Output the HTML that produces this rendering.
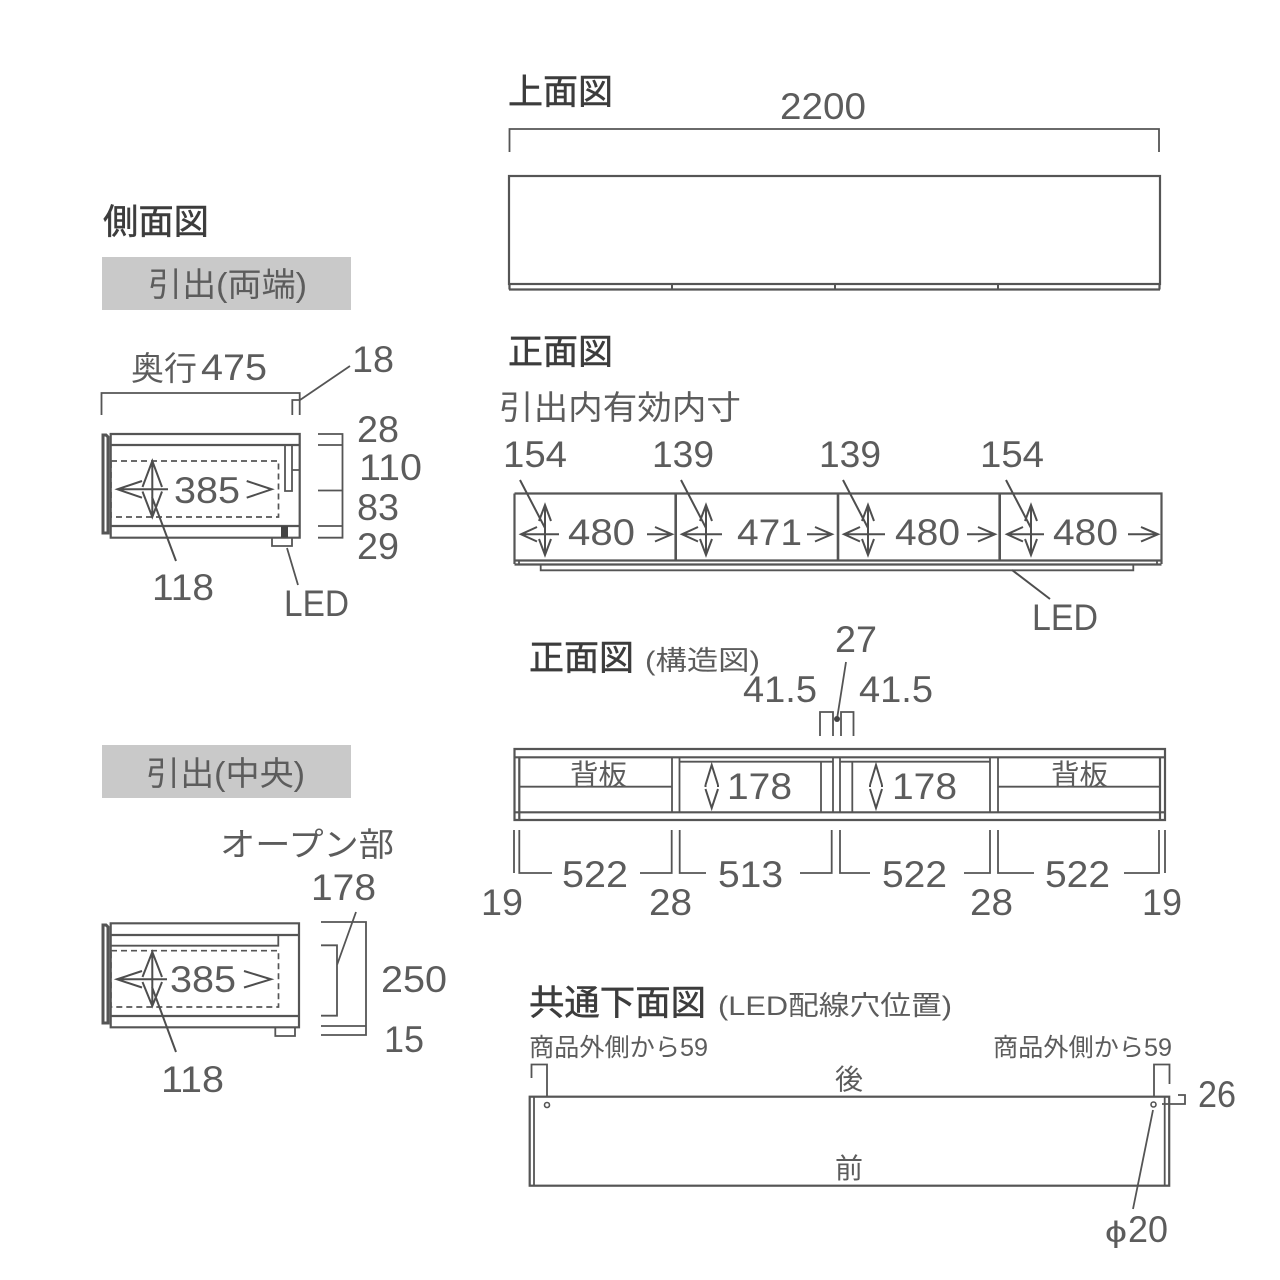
<!DOCTYPE html>
<html><head><meta charset="utf-8"><style>
html,body{margin:0;padding:0;background:#fff}
svg{display:block}
text{font-family:"Liberation Sans","Noto Sans CJK JP",sans-serif;fill:#5c5c5c;font-size:37px}
.j{font-size:33px}
.t{font-size:35px;fill:#3c3c3c;stroke:#3c3c3c;stroke-width:.5}
.m{font-size:27px}
.s{font-size:25px}
.l{fill:none;stroke:#555;stroke-width:1.8}
.b{fill:none;stroke:#555;stroke-width:2.2}
.d{fill:none;stroke:#555;stroke-width:1.7;stroke-dasharray:6 4}
.a{fill:none;stroke:#4e4e4e;stroke-width:2}
</style></head><body>
<svg width="1280" height="1280" viewBox="0 0 1280 1280" xmlns="http://www.w3.org/2000/svg">
<rect width="1280" height="1280" fill="#fff"/>

<!-- titles -->
<text class="t" x="508" y="104" textLength="105" lengthAdjust="spacingAndGlyphs">上面図</text>
<text class="t" x="508" y="364" textLength="105" lengthAdjust="spacingAndGlyphs">正面図</text>
<text class="t" x="103" y="234" textLength="106" lengthAdjust="spacingAndGlyphs">側面図</text>
<text class="t" x="529" y="670" textLength="105" lengthAdjust="spacingAndGlyphs">正面図</text>
<text class="m" x="645" y="670" textLength="115" lengthAdjust="spacingAndGlyphs">(構造図)</text>
<text class="t" x="529" y="1015" textLength="177" lengthAdjust="spacingAndGlyphs">共通下面図</text>
<text class="m" x="718" y="1015" textLength="234" lengthAdjust="spacingAndGlyphs">(LED配線穴位置)</text>

<!-- top view -->
<text x="780" y="119" textLength="86" lengthAdjust="spacingAndGlyphs">2200</text>
<path class="l" d="M509.5 152V129H1159V152"/>
<rect class="b" x="509" y="176" width="651" height="108"/>
<path class="b" d="M509 289.5H1160M509.5 284V289.5M1159.5 284V289.5"/>
<path d="M672 284V289M835 284V289M998 284V289" fill="none" stroke="#555" stroke-width="2"/>

<!-- side 1 -->
<rect x="102" y="257" width="249" height="53" fill="#c9c9c9"/>
<text class="j" x="148" y="296" textLength="159" lengthAdjust="spacingAndGlyphs">引出(両端)</text>
<text class="j" x="131" y="380">奥行</text>
<text x="201" y="380" textLength="66" lengthAdjust="spacingAndGlyphs">475</text>
<text x="352" y="372" textLength="42" lengthAdjust="spacingAndGlyphs">18</text>
<path class="l" d="M101.5 415V393H299.7V415M292.3 415V400H299.7M300 400L350 366"/>
<path class="b" d="M110.7 434H299.7V537.7H110.7ZM110.7 445H299.7M110.7 526H299.7"/>
<path d="M103 435H106L108 437V533H103Z" fill="none" stroke="#555" stroke-width="3"/>
<rect class="d" x="111" y="461" width="167.5" height="56"/>
<path class="l" d="M285 445V491H292V445M292 470H299.7"/>
<rect x="281" y="526" width="7" height="11.5" fill="#444"/>
<path class="l" d="M272 537.7V546H292V537.7M287 548L298 585"/>
<path class="a" d="M142 481L117.5 489.3L142 497.7M117.5 489.3H168M152.3 461V517M142.5 487L152.3 461L162 487M142.5 491.5L152.3 517L162 491.5M152 497L176 561M246.7 481L271.7 489.3L246.7 497.7"/>
<text x="174" y="503" textLength="66" lengthAdjust="spacingAndGlyphs">385</text>
<text x="152" y="600" textLength="62" lengthAdjust="spacingAndGlyphs">118</text>
<text x="284" y="616" textLength="65" lengthAdjust="spacingAndGlyphs">LED</text>
<path class="l" d="M318 434H342.5V537.7H318M318 445H342.5M318 490.5H342.5M318 526H342.5"/>
<text x="357" y="442" textLength="42" lengthAdjust="spacingAndGlyphs">28</text>
<text x="359" y="480" textLength="63" lengthAdjust="spacingAndGlyphs">110</text>
<text x="357" y="520" textLength="42" lengthAdjust="spacingAndGlyphs">83</text>
<text x="357" y="559" textLength="42" lengthAdjust="spacingAndGlyphs">29</text>

<!-- front view -->
<text class="j" x="499" y="419" textLength="242" lengthAdjust="spacingAndGlyphs">引出内有効内寸</text>
<text x="503" y="467" textLength="64" lengthAdjust="spacingAndGlyphs">154</text>
<text x="652" y="467" textLength="62" lengthAdjust="spacingAndGlyphs">139</text>
<text x="819" y="467" textLength="62" lengthAdjust="spacingAndGlyphs">139</text>
<text x="980" y="467" textLength="64" lengthAdjust="spacingAndGlyphs">154</text>
<path class="b" d="M514.5 493.5H1161.5V564M514.5 493.5V564M514.5 560.5H1161.5M514.5 564.5H1161.5"/>
<path d="M675.7 493.5V560M838 493.5V560M999.7 493.5V560" fill="none" stroke="#555" stroke-width="2.6"/>
<path class="l" d="M519 560V564M1157 560V564M540.7 564.5V570.3H1133.3V564.5"/>
<path class="a" d="M1012 570L1050 599"/>
<path class="a" d="M521 534.3H559M537 527L521 534.3L537 541.5M545 505V555M539 521L545 505L551 521M539 539L545 555L551 539M520 480L545 528M647 534.3H672M655 527L672 534.3L655 541.5"/>
<path class="a" d="M682 534.3H722M698 527L682 534.3L698 541.5M706 505V555M700 521L706 505L712 521M700 539L706 555L712 539M681 480L706 528M807 534.3H832M815 527L832 534.3L815 541.5"/>
<path class="a" d="M844 534.3H885M860 527L844 534.3L860 541.5M868 505V555M862 521L868 505L874 521M862 539L868 555L874 539M843 480L868 528M967 534.3H995M978 527L995 534.3L978 541.5"/>
<path class="a" d="M1007 534.3H1044M1023 527L1007 534.3L1023 541.5M1031 505V555M1025 521L1031 505L1037 521M1025 539L1031 555L1037 539M1006 480L1031 528M1128 534.3H1158M1141 527L1158 534.3L1141 541.5"/>
<text x="568" y="545" textLength="67" lengthAdjust="spacingAndGlyphs">480</text>
<text x="737" y="545" textLength="65" lengthAdjust="spacingAndGlyphs">471</text>
<text x="895" y="545" textLength="65" lengthAdjust="spacingAndGlyphs">480</text>
<text x="1053" y="545" textLength="65" lengthAdjust="spacingAndGlyphs">480</text>
<text x="1032" y="630" textLength="66" lengthAdjust="spacingAndGlyphs">LED</text>

<!-- structure -->
<text x="835" y="652" textLength="42" lengthAdjust="spacingAndGlyphs">27</text>
<text x="743" y="702" textLength="74" lengthAdjust="spacingAndGlyphs">41.5</text>
<text x="859" y="702" textLength="74" lengthAdjust="spacingAndGlyphs">41.5</text>
<path class="l" d="M820 736V712H833V736M841 736V712H853.5V736M846 662L837 719"/>
<circle cx="837" cy="719" r="3" fill="#444"/>
<path class="b" d="M514.5 749H1165V820H514.5ZM514.5 757.3H1165M514.5 812.3H1165M519.3 757.3V820M1160 757.3V820"/>
<path class="l" d="M672 757.3V812.3M679.5 757.3V812.3M519.3 786.7H672M679.5 761.7H833M840 761.7H990M821 761.7V812.3M833 757.3V812.3M840 757.3V812.3M852.3 761.7V812.3M990 757.3V812.3M998 757.3V812.3M998 786.7H1160"/>
<text class="m" x="570" y="785" style="font-size:29px" textLength="57" lengthAdjust="spacingAndGlyphs">背板</text>
<text class="m" x="1051" y="785" style="font-size:29px" textLength="57" lengthAdjust="spacingAndGlyphs">背板</text>
<path class="a" d="M705.5 785L711.7 765L718 785M705.5 785V787M718 785V787M705.5 789L711.7 808L718 789"/>
<path class="a" d="M870 785L876 765L882 785M870 785V787M882 785V787M870 789L876 808L882 789"/>
<text x="727" y="799" textLength="65" lengthAdjust="spacingAndGlyphs">178</text>
<text x="892" y="799" textLength="65" lengthAdjust="spacingAndGlyphs">178</text>
<path class="l" d="M514 830V873M519.3 830V873H552M640 873H671.7V830M679.7 830V873H706M800 873H831.7V830M840 830V873H870M964 873H990V830M998 830V873H1034M1124 873H1159V830M1165 830V873"/>
<text x="562" y="887" textLength="66" lengthAdjust="spacingAndGlyphs">522</text>
<text x="718" y="887" textLength="65" lengthAdjust="spacingAndGlyphs">513</text>
<text x="882" y="887" textLength="65" lengthAdjust="spacingAndGlyphs">522</text>
<text x="1045" y="887" textLength="65" lengthAdjust="spacingAndGlyphs">522</text>
<text x="481" y="915" textLength="42" lengthAdjust="spacingAndGlyphs">19</text>
<text x="649" y="915" textLength="43" lengthAdjust="spacingAndGlyphs">28</text>
<text x="970" y="915" textLength="43" lengthAdjust="spacingAndGlyphs">28</text>
<text x="1142" y="915" textLength="40" lengthAdjust="spacingAndGlyphs">19</text>

<!-- side 2 -->
<rect x="102" y="745" width="249" height="53" fill="#c9c9c9"/>
<text class="j" x="146" y="785" textLength="159" lengthAdjust="spacingAndGlyphs">引出(中央)</text>
<text class="j" x="220" y="856" textLength="174" lengthAdjust="spacingAndGlyphs">オープン部</text>
<text x="311" y="900" textLength="65" lengthAdjust="spacingAndGlyphs">178</text>
<path class="b" d="M110.7 923.3H299V1027.3H110.7ZM110.7 935H299M110.7 1016H299"/>
<path class="l" d="M111 945.7H278.3V935"/>
<path d="M103 925H106L108 927V1023H103Z" fill="none" stroke="#555" stroke-width="3"/>
<rect class="d" x="111" y="950.7" width="167.5" height="56.3"/>
<path class="l" d="M275.3 1027.3V1036H295V1027.3"/>
<path class="a" d="M142 971L117 979.3L142 987.5M117 979.3H167M152.3 952V1006M142.5 977L152.3 952L162 977M142.5 982L152.3 1006L162 982M152 987L176 1052M244 971L271 979.3L244 987.5"/>
<text x="170" y="992" textLength="66" lengthAdjust="spacingAndGlyphs">385</text>
<text x="161" y="1092" textLength="63" lengthAdjust="spacingAndGlyphs">118</text>
<path class="l" d="M321 922H366V1035H321M321 1026H366M321 945.3H337V1015.7H321M356 912L337 965"/>
<text x="381" y="992" textLength="66" lengthAdjust="spacingAndGlyphs">250</text>
<text x="384" y="1052" textLength="40" lengthAdjust="spacingAndGlyphs">15</text>

<!-- bottom view -->
<text class="s" x="529" y="1056" textLength="179" lengthAdjust="spacingAndGlyphs">商品外側から59</text>
<text class="s" x="993" y="1056" textLength="179" lengthAdjust="spacingAndGlyphs">商品外側から59</text>
<text class="m" x="835" y="1089" style="font-size:28px">後</text>
<text class="m" x="835" y="1178" style="font-size:28px">前</text>
<rect class="b" x="529.7" y="1096.7" width="639.5" height="89"/>
<path class="l" d="M534 1096.7V1185.7M1164.7 1096.7V1185.7"/>
<circle cx="547" cy="1105" r="2.5" fill="#fff" stroke="#555" stroke-width="1.6"/>
<circle cx="1153.5" cy="1104.5" r="2.5" fill="#fff" stroke="#555" stroke-width="1.6"/>
<path class="l" d="M531.5 1078V1064.5H547V1097M1154 1097V1064.5H1169.5V1084"/>
<path class="l" d="M1162 1104H1185V1095H1178M1153 1110L1133 1209"/>
<text x="1198" y="1107" textLength="38" lengthAdjust="spacingAndGlyphs">26</text>
<text x="1105" y="1242" style="font-size:30px" textLength="22" lengthAdjust="spacingAndGlyphs">ϕ</text>
<text x="1128" y="1242" textLength="40" lengthAdjust="spacingAndGlyphs">20</text>
</svg>
</body></html>
